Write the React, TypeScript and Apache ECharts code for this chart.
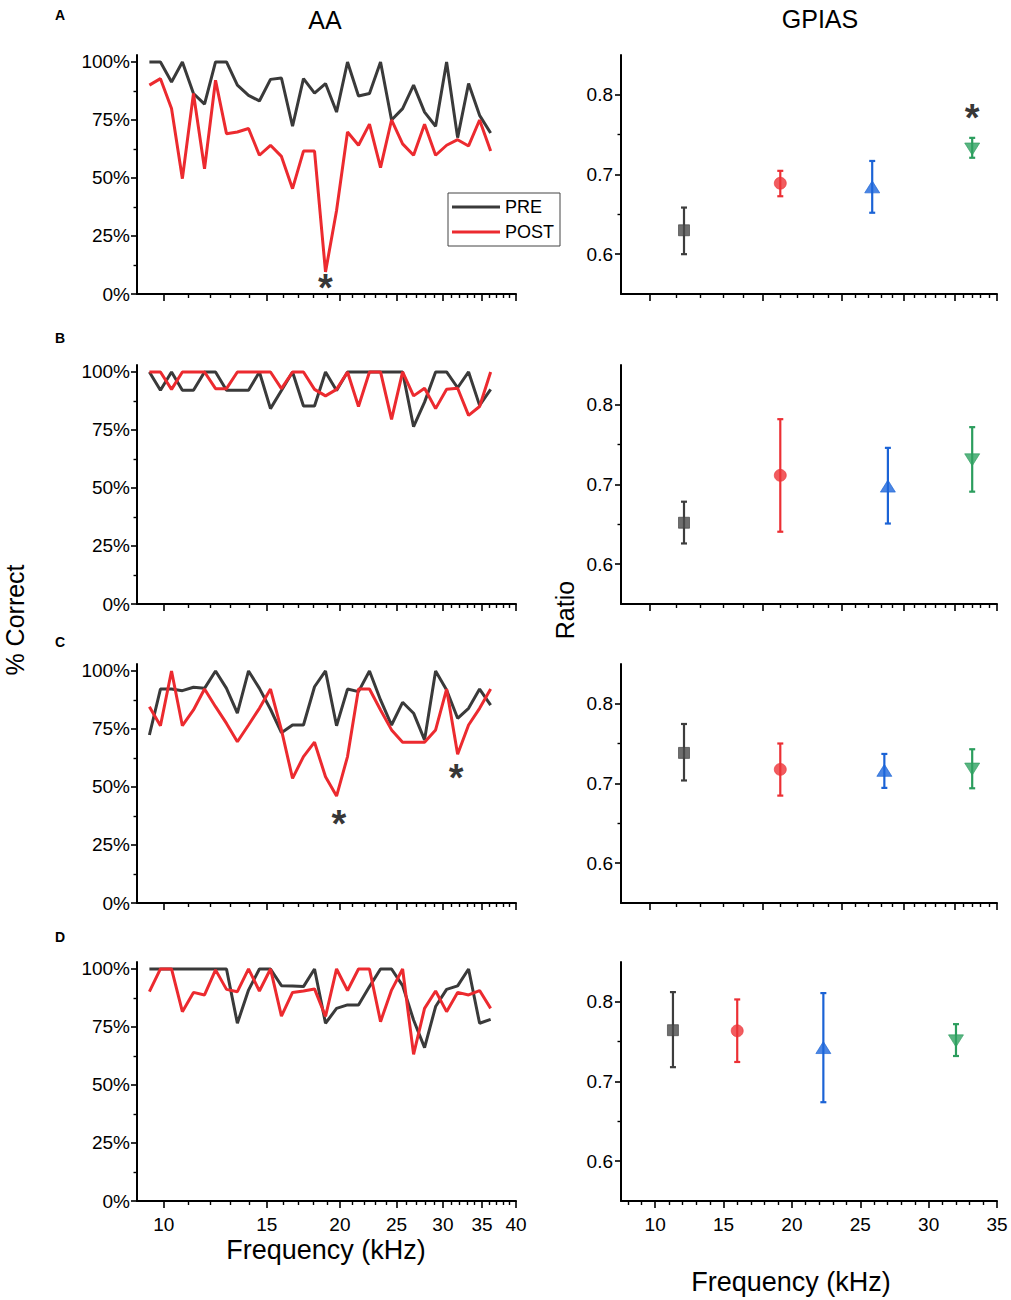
import React, { useEffect, useRef } from "react";
import * as echarts from "echarts";

// ---------- data ----------
const FREQS = [9.45, 9.87, 10.31, 10.76, 11.24, 11.74, 12.26, 12.8, 13.36, 13.96, 14.57, 15.22, 15.89, 16.6, 17.33, 18.1,
  18.9, 19.74, 20.61, 21.52, 22.47, 23.47, 24.51, 25.6, 26.73, 27.91, 29.15, 30.44, 31.79, 33.19, 34.66, 36.2];

const A_PRE = [100, 100, 91.4, 100, 86.4, 81.8, 100, 100, 90, 85.6, 83.2, 92.5, 93.1, 72.3, 92.8, 86.6, 90.7, 78.4, 100, 85.3, 86.4, 100, 75, 79.9, 90, 78.4, 72.3, 100, 67.4, 90.7, 77, 69.4];
const A_POST = [90, 92.8, 79.9, 49.7, 86.4, 54, 92.1, 69.1, 69.8, 71.3, 59.8, 64.1, 59.3, 45.4, 61.6, 61.6, 9.5, 36, 69.8, 64.1, 73.2, 54.5, 75, 64.7, 59.8, 73.2, 59.8, 64.1, 66.5, 63.8, 75, 61.6];
const B_PRE = [100, 92.1, 100, 92.1, 92.1, 100, 100, 92.1, 92.1, 92.1, 100, 84.2, 92, 100, 85.3, 85.3, 100, 92, 100, 100, 100, 100, 100, 100, 76.4, 87, 100, 100, 93.2, 100, 85.6, 92.5];
const B_POST = [100, 100, 92.5, 100, 100, 100, 92.8, 92.8, 100, 100, 100, 100, 92.8, 100, 100, 92.5, 89.7, 92.5, 100, 85.1, 100, 100, 79.6, 100, 89.7, 93, 84.2, 92.5, 93, 81.3, 85.1, 100];
const C_PRE = [72.4, 92.2, 92.2, 91.5, 93, 92.5, 100, 92.5, 81.8, 100, 92.5, 83.5, 73.4, 76.7, 76.7, 93.2, 100, 76.4, 92.2, 91.1, 100, 87.5, 76.7, 86.5, 81.8, 70.3, 100, 91.8, 79.6, 83.9, 92.2, 85.3];
const C_POST = [84.6, 76.4, 100, 76.4, 83.2, 92.2, 84.6, 77.4, 69.5, 76.7, 83.9, 92.2, 74.6, 53.7, 63.1, 69.3, 54.4, 46.1, 63.1, 92.2, 92.2, 83.2, 74.6, 69.3, 69.3, 69.3, 74.6, 92.2, 64.1, 76.7, 83.9, 92.2];
const D_PRE = [100, 100, 100, 100, 100, 100, 100, 100, 76.6, 90.9, 100, 100, 92.8, 92.7, 92.4, 100, 76.6, 83, 84.5, 84.5, 92.4, 100, 100, 92.8, 78, 66.1, 83.8, 91.2, 92.7, 100, 76.6, 78.3];
const D_POST = [90.2, 100, 100, 81.6, 89.9, 88.8, 99.6, 91.2, 90.2, 100, 90.5, 100, 79.7, 89.9, 90.5, 91.4, 79.5, 100, 90.7, 100, 100, 77.3, 90.9, 100, 63.2, 83, 90.5, 81.6, 89.9, 88.8, 90.7, 83];

const GP_X_A = [11.3, 16, 22.3, 32];
const GP_X_B = [11.3, 16, 23.6, 32];
const GP_X_C = [11.3, 16, 23.3, 32];
const GP_X_D = [11.3, 16, 22.3, 32];
const GP_MEAN_A = [0.63, 0.689, 0.6845, 0.732];
const GP_LO_A = [0.6, 0.6727, 0.652, 0.721];
const GP_HI_A = [0.6585, 0.7046, 0.717, 0.746];
const GP_MEAN_B = [0.652, 0.7115, 0.698, 0.731];
const GP_LO_B = [0.626, 0.6407, 0.651, 0.691];
const GP_HI_B = [0.6784, 0.782, 0.746, 0.772];
const GP_MEAN_C = [0.7384, 0.7177, 0.7165, 0.7181];
const GP_LO_C = [0.7038, 0.6848, 0.6945, 0.694];
const GP_HI_C = [0.7747, 0.7502, 0.7371, 0.743];
const GP_MEAN_D = [0.7644, 0.7636, 0.7426, 0.751];
const GP_LO_D = [0.718, 0.7245, 0.674, 0.732];
const GP_HI_D = [0.8122, 0.803, 0.811, 0.772];

const STARS_A_LEFT = [[18.9, 5.2]];
const STARS_A_RIGHT = [[32, 0.778]];
const STARS_C_LEFT = [[19.93, 36.6], [31.6, 56.5]];

const LEFT_X_MAJOR = [10, 15, 20, 25, 30, 35, 40];
const LEFT_X_MINOR = [11, 12, 13, 14, 16, 17, 18, 19, 21, 22, 23, 24, 26, 27, 28, 29, 31, 32, 33, 34, 36, 37, 38, 39];
const RIGHT_X_MAJOR = [10, 15, 20, 25, 30, 35];
const RIGHT_X_MINOR_LOG = [11, 12, 13, 14, 16, 17, 18, 19, 21, 22, 23, 24, 26, 27, 28, 29, 31, 32, 33, 34];
const RIGHT_X_MINOR_LIN = [8, 9, 11, 12, 13, 14, 16, 17, 18, 19, 21, 22, 23, 24, 26, 27, 28, 29, 31, 32, 33, 34];
const LEFT_Y_MAJOR = [0, 25, 50, 75, 100];
const LEFT_Y_MINOR = [12.5, 37.5, 62.5, 87.5];
const RIGHT_Y_MAJOR = [0.6, 0.7, 0.8];
const RIGHT_Y_MINOR = [0.65, 0.75];

// ---------- style ----------
const FONT = "'Liberation Sans', Arial, Helvetica, sans-serif";
const PRE_COLOR = "#3a3a3a";
const POST_COLOR = "#ec2a2f";
const GP_COLORS = ["#3d3d3d", "#ec2f34", "#1b63d6", "#2b9d5d"];
const GP_FILL = ["#4a4a4a", "#ee3337", "#1d67dc", "#2fa262"];
const GP_SYMBOLS = ["rect", "circle", "triangle", "triangle"];
const GP_SIZES: any[] = [11, 12, [15, 12], [15, 12]];
const GP_ROT = [0, 0, 0, 180];
const TOPS = [55, 365, 664, 962];
const GRID_H = 239;

const lg = (v: number) => Math.log10(v);
const LX_MIN = lg(9), LX_MAX = lg(40);
const RX_MIN = lg(9), RX_MAX = lg(35);

const PANELS = [
  { pre: A_PRE, post: A_POST, gx: GP_X_A, gm: GP_MEAN_A, glo: GP_LO_A, ghi: GP_HI_A, sl: STARS_A_LEFT, sr: STARS_A_RIGHT },
  { pre: B_PRE, post: B_POST, gx: GP_X_B, gm: GP_MEAN_B, glo: GP_LO_B, ghi: GP_HI_B, sl: [], sr: [] },
  { pre: C_PRE, post: C_POST, gx: GP_X_C, gm: GP_MEAN_C, glo: GP_LO_C, ghi: GP_HI_C, sl: STARS_C_LEFT, sr: [] },
  { pre: D_PRE, post: D_POST, gx: GP_X_D, gm: GP_MEAN_D, glo: GP_LO_D, ghi: GP_HI_D, sl: [], sr: [] },
];

function buildOption() {
  const grid: any[] = [];
  const xAxis: any[] = [];
  const yAxis: any[] = [];
  const series: any[] = [];
  const lineStyle = { color: "#000", width: 2 };

  const mkX = (g: number, min: number, max: number, major: number[], minor: number[], showLabel: boolean, isLog: boolean) => {
    const tf = (v: number) => (isLog ? lg(v) : v);
    xAxis.push({
      type: "value", gridIndex: g, min, max, position: "bottom",
      axisLine: { show: true, onZero: false, lineStyle },
      axisTick: { show: true, length: 7, lineStyle: { color: "#000", width: 1.6 }, customValues: major.map(tf) },
      axisLabel: {
        show: showLabel, customValues: major.map(tf), margin: 14, fontSize: 19, color: "#000", fontFamily: FONT,
        formatter: (v: number) => String(Math.round(isLog ? Math.pow(10, v) : v)),
      },
      splitLine: { show: false },
    });
    xAxis.push({
      type: "value", gridIndex: g, min, max, position: "bottom",
      axisLine: { show: false, onZero: false },
      axisTick: { show: true, length: 4, lineStyle: { color: "#000", width: 1.4 }, customValues: minor.map(tf) },
      axisLabel: { show: false },
      splitLine: { show: false },
    });
  };
  const mkY = (g: number, min: number, max: number, major: number[], minor: number[], fmt: (v: number) => string, margin: number) => {
    yAxis.push({
      type: "value", gridIndex: g, min, max, position: "left",
      axisLine: { show: true, onZero: false, lineStyle },
      axisTick: { show: true, length: 6, lineStyle: { color: "#000", width: 1.6 }, customValues: major },
      axisLabel: { show: true, customValues: major, margin, fontSize: 19, color: "#000", fontFamily: FONT, formatter: fmt },
      splitLine: { show: false },
    });
    yAxis.push({
      type: "value", gridIndex: g, min, max, position: "left",
      axisLine: { show: false, onZero: false },
      axisTick: { show: true, length: 3.5, lineStyle: { color: "#000", width: 1.4 }, customValues: minor },
      axisLabel: { show: false },
      splitLine: { show: false },
    });
  };

  const starSeries = (axisIdx: number, pts: number[][], isLog: boolean) => ({
    type: "scatter", xAxisIndex: axisIdx, yAxisIndex: axisIdx, silent: true, z: 10,
    data: pts.map((p) => [isLog ? lg(p[0]) : p[0], p[1]]),
    symbolSize: 1, itemStyle: { color: "rgba(0,0,0,0)" },
    label: { show: true, formatter: "*", position: "inside", fontSize: 38, fontWeight: "bold", color: "#000", fontFamily: FONT, offset: [0, 6] },
  });

  PANELS.forEach((p, i) => {
    const gL = 2 * i, gR = 2 * i + 1;
    const top = TOPS[i];
    grid.push({ left: 137, top, width: 379, height: GRID_H });
    grid.push({ left: 621, top, width: 376, height: GRID_H });
    const last = i === 3;
    mkX(gL, LX_MIN, LX_MAX, LEFT_X_MAJOR, LEFT_X_MINOR, last, true);
    if (last) mkX(gR, 7.5, 35, RIGHT_X_MAJOR, RIGHT_X_MINOR_LIN, true, false);
    else mkX(gR, RX_MIN, RX_MAX, RIGHT_X_MAJOR, RIGHT_X_MINOR_LOG, false, true);
    mkY(gL, 0, 103, LEFT_Y_MAJOR, LEFT_Y_MINOR, (v: number) => `${Math.round(v)}%`, 7);
    mkY(gR, 0.55, 0.85, RIGHT_Y_MAJOR, RIGHT_Y_MINOR, (v: number) => v.toFixed(1), 8);

    const aL = 2 * gL;
    const aR = 2 * gR;
    series.push({
      type: "line", name: "PRE", xAxisIndex: aL, yAxisIndex: aL, symbol: "none",
      data: FREQS.map((f, k) => [lg(f), p.pre[k]]),
      lineStyle: { color: PRE_COLOR, width: 3 }, itemStyle: { color: PRE_COLOR },
    });
    series.push({
      type: "line", name: "POST", xAxisIndex: aL, yAxisIndex: aL, symbol: "none",
      data: FREQS.map((f, k) => [lg(f), p.post[k]]),
      lineStyle: { color: POST_COLOR, width: 3 }, itemStyle: { color: POST_COLOR },
    });
    const tx = (v: number) => (last ? v : lg(v));
    series.push({
      type: "custom", xAxisIndex: aR, yAxisIndex: aR, silent: true,
      data: p.gx.map((x, k) => [tx(x), p.glo[k], p.ghi[k], k]),
      encode: { x: 0, y: [1, 2] },
      renderItem: (_params: any, api: any) => {
        const x = api.value(0), lo = api.value(1), hi = api.value(2);
        const c = GP_COLORS[api.value(3)];
        const a = api.coord([x, hi]);
        const b = api.coord([x, lo]);
        const w = 3;
        const st = { stroke: c, lineWidth: 2.2 };
        return {
          type: "group",
          children: [
            { type: "line", shape: { x1: a[0], y1: a[1], x2: b[0], y2: b[1] }, style: st },
            { type: "line", shape: { x1: a[0] - w, y1: a[1], x2: a[0] + w, y2: a[1] }, style: st },
            { type: "line", shape: { x1: b[0] - w, y1: b[1], x2: b[0] + w, y2: b[1] }, style: st },
          ],
        };
      },
    });
    series.push({
      type: "scatter", xAxisIndex: aR, yAxisIndex: aR, silent: true, z: 5,
      data: p.gx.map((x, k) => ({
        value: [tx(x), p.gm[k]],
        symbol: GP_SYMBOLS[k], symbolSize: GP_SIZES[k], symbolRotate: GP_ROT[k],
        itemStyle: { color: GP_FILL[k], borderColor: GP_COLORS[k], borderWidth: 0.8 },
      })),
    });
    if (p.sl.length) series.push(starSeries(aL, p.sl, true));
    if (p.sr.length) series.push(starSeries(aR, p.sr, !last));
  });

  const txt = (text: string, x: number, y: number, size: number, extra: any = {}) => ({
    type: "text", x, y, silent: true, ...extra,
    style: { text, fill: "#000", font: `${extra.bold ? "bold " : ""}${size}px ${FONT}`, align: "center", verticalAlign: "middle" },
  });

  return {
    animation: false,
    backgroundColor: "#fff",
    grid, xAxis, yAxis, series,
    legend: {
      data: ["PRE", "POST"], left: 448, top: 193, orient: "vertical",
      borderColor: "#444", borderWidth: 1, padding: [5, 6, 5, 4], itemGap: 7,
      icon: "rect", itemWidth: 48, itemHeight: 3, selectedMode: false,
      textStyle: { fontSize: 18, color: "#000", fontFamily: FONT },
    },
    graphic: [
      txt("AA", 325, 20, 25),
      txt("GPIAS", 820, 19, 25),
      txt("A", 60, 15, 14, { bold: true }),
      txt("B", 60, 338, 14, { bold: true }),
      txt("C", 60, 642, 14, { bold: true }),
      txt("D", 60, 937, 14, { bold: true }),
      txt("% Correct", 15, 620, 25, { rotation: Math.PI / 2 }),
      txt("Ratio", 565, 610, 25, { rotation: Math.PI / 2 }),
      txt("Frequency (kHz)", 326, 1250, 27),
      txt("Frequency (kHz)", 791, 1282, 27),
    ],
  };
}

export default function App() {
  const ref = useRef<HTMLDivElement>(null);
  useEffect(() => {
    document.body.style.margin = "0";
    if (!ref.current) return;
    const chart = echarts.init(ref.current, undefined, { renderer: "svg" });
    chart.setOption(buildOption() as any);
    return () => chart.dispose();
  }, []);
  return <div ref={ref} style={{ width: 1011, height: 1300, background: "#fff" }} />;
}
